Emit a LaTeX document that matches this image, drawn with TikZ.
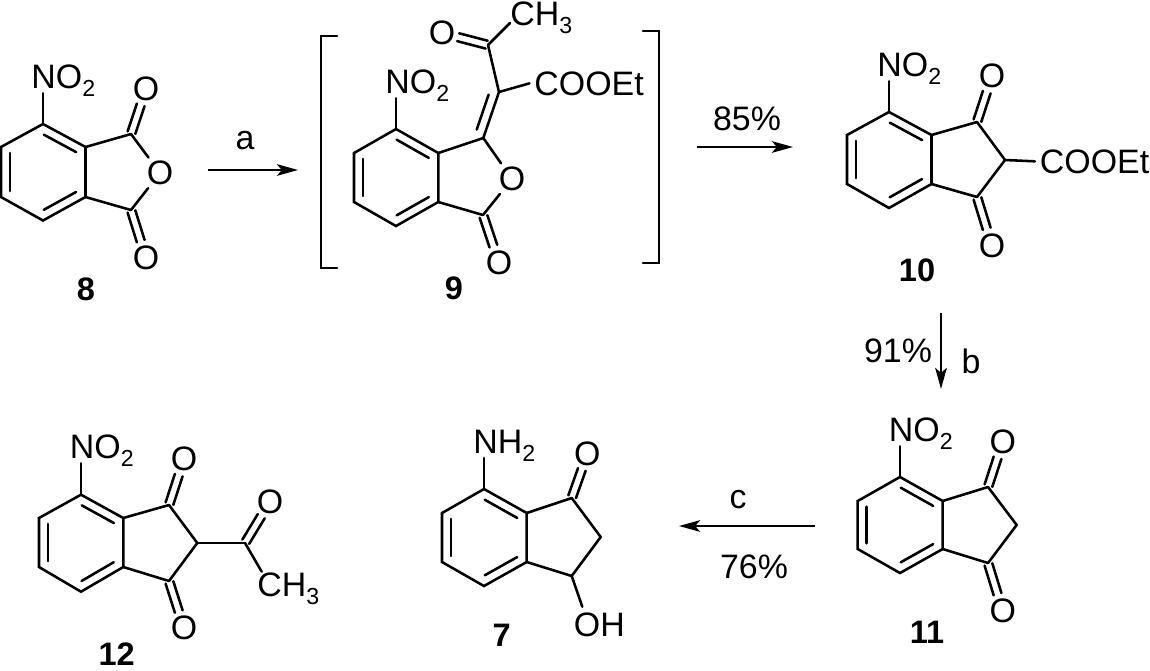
\documentclass[tikz,border=0pt]{standalone}
\usepackage{fontspec}
\setmainfont{Liberation Sans}
\usepackage{tikz}
\usetikzlibrary{calc,arrows.meta}

\newcommand{\sbs}[1]{\smash{\raisebox{-4.6pt}{\fontsize{13.2}{13.2}\selectfont #1}}}

\begin{document}
\begin{tikzpicture}[x=0.02cm, y=-0.02cm]
    \tikzstyle{bond}=[
        draw = black,
        line width = 1.45pt,
        line cap = round
    ]
    \tikzstyle{reaction}=[
        draw = black,
        line width = 1.25pt,
        -{Stealth[length=12pt, width=6.6pt, inset=2.8pt]}
    ]
    \tikzstyle{group}=[
        font = \fontsize{19.3}{21}\selectfont,
        inner sep = 2.6pt,
        anchor = base west
    ]
    \tikzstyle{oxygen}=[
        font = \fontsize{19.3}{21}\selectfont,
        circle,
        inner sep = 0pt,
        minimum size = 21.5pt
    ]
    \tikzstyle{condition}=[
        font = \fontsize{19.3}{21}\selectfont,
        inner sep = 0pt,
        anchor = base
    ]
    \tikzstyle{compound}=[
        font = \fontsize{18.5}{20}\selectfont\bfseries,
        inner sep = 0pt
    ]
    \tikzstyle{inring}=[
        to path = {($(\tikztostart)!.12!(\tikztotarget)!5.1pt!#1:(\tikztotarget)$) -- ($(\tikztostart)!.88!(\tikztotarget)!5.1pt!#1:(\tikztotarget)$)}
    ]
    \tikzstyle{carbonyl}=[
        to path = {($(\tikztostart)!.03!(\tikztotarget)!2.3pt!90:(\tikztotarget)$) -- ($(\tikztostart)!.65!(\tikztotarget)!2.3pt!90:(\tikztotarget)$)
            ($(\tikztostart)!.03!(\tikztotarget)!2.3pt!-90:(\tikztotarget)$) -- ($(\tikztostart)!.65!(\tikztotarget)!2.3pt!-90:(\tikztotarget)$)}
    ]

    \useasboundingbox (0, 0) rectangle (1150, 670);

    % compound 8
    \coordinate (t8)  at (43, 124);
    \coordinate (ur8) at (85.5, 147);
    \coordinate (lr8) at (85.5, 197);
    \coordinate (b8)  at (43, 220.5);
    \coordinate (ll8) at (1, 197);
    \coordinate (ul8) at (1, 147);
    \coordinate (c8)  at (131, 134);
    \coordinate (d8)  at (131, 210);
    \node[oxygen] (o8)  at (160, 173) {O};
    \node[oxygen] (p8)  at (146, 89)  {O};
    \node[oxygen] (q8)  at (146, 258) {O};
    \node[group]  (n8)  at (26.5, 88) {NO\sbs{2}};
    \node[compound] (l8) at (86, 289) {8};

    \draw[bond] (t8) -- (ur8) -- (lr8) -- (b8) -- (ll8) -- (ul8) -- cycle;
    \path[bond] (t8) to[inring=-90] (ur8);
    \path[bond] (lr8) to[inring=-90] (b8);
    \path[bond] (ll8) to[inring=-90] (ul8);
    \path[bond] (ur8) -- (c8);
    \path[bond] (lr8) -- (d8);
    \path[bond] (c8) -- (o8);
    \path[bond] (d8) -- (o8);
    \path[bond] (c8) to[carbonyl] (p8);
    \path[bond] (d8) to[carbonyl] (q8);
    \path[bond] (t8) -- (n8.south -| t8);

    % arrow a
    \coordinate (a0) at (208, 170);
    \coordinate (a1) at (298, 170);
    \draw[reaction] (a0) -- (a1);
    \node[condition] (la) at (245, 149) {a};

    % compound 9 with its brackets
    \coordinate (br1) at (337, 36);
    \coordinate (br2) at (321, 36);
    \coordinate (br3) at (321, 268);
    \coordinate (br4) at (337, 268);
    \coordinate (br5) at (643, 31);
    \coordinate (br6) at (659, 31);
    \coordinate (br7) at (659, 263);
    \coordinate (br8) at (643, 263);
    \draw[bond] (br1) -- (br2) -- (br3) -- (br4);
    \draw[bond] (br5) -- (br6) -- (br7) -- (br8);

    \coordinate (t9)  at (396, 129);
    \coordinate (ur9) at (438.3, 153);
    \coordinate (lr9) at (438.3, 202);
    \coordinate (b9)  at (396, 226);
    \coordinate (ll9) at (354, 202);
    \coordinate (ul9) at (354, 153);
    \coordinate (c9)  at (483.3, 138);
    \coordinate (d9)  at (483, 215);
    \coordinate (e9)  at (499, 92);
    \coordinate (f9)  at (488, 45);
    \coordinate (g9)  at (510, 23);
    \node[oxygen] (o9)  at (512, 179) {O};
    \node[oxygen] (q9)  at (499, 263) {O};
    \node[oxygen] (p9)  at (442, 33)  {O};
    \node[group]  (n9)  at (380.5, 93) {NO\sbs{2}};
    \node[group]  (h9)  at (505.5, 25) {CH\sbs{3}};
    \node[group]  (x9)  at (529.5, 95) {COOEt};
    \node[compound] (l9) at (454, 288) {9};

    \draw[bond] (t9) -- (ur9) -- (lr9) -- (b9) -- (ll9) -- (ul9) -- cycle;
    \path[bond] (t9) to[inring=-90] (ur9);
    \path[bond] (lr9) to[inring=-90] (b9);
    \path[bond] (ll9) to[inring=-90] (ul9);
    \path[bond] (ur9) -- (c9);
    \path[bond] (lr9) -- (d9);
    \path[bond] (c9) -- (o9);
    \path[bond] (d9) -- (o9);
    \path[bond] (d9) to[carbonyl] (q9);
    \path[bond] (c9) -- (e9);
    \path[bond] (c9) to[inring=90] (e9);
    \path[bond] (e9) -- (f9);
    \path[bond] (e9) -- (x9.west);
    \path[bond] (f9) -- (g9);
    \path[bond] (f9) to[carbonyl] (p9);
    \path[bond] (t9) -- (n9.south -| t9);

    % arrow 85%
    \coordinate (a2) at (697, 147);
    \coordinate (a3) at (793, 147);
    \draw[reaction] (a2) -- (a3);
    \node[condition] (lp) at (747, 130) {85\%};

    % compound 10
    \coordinate (t10)  at (889, 112);
    \coordinate (ur10) at (931.5, 135);
    \coordinate (lr10) at (931.5, 184);
    \coordinate (b10)  at (889, 208);
    \coordinate (ll10) at (847, 184);
    \coordinate (ul10) at (847, 135);
    \coordinate (c10)  at (977, 122);
    \coordinate (e10)  at (1005, 160);
    \coordinate (d10)  at (977, 197);
    \node[oxygen] (p10) at (992, 76)  {O};
    \node[oxygen] (q10) at (992, 246) {O};
    \node[group]  (n10) at (872.5, 76) {NO\sbs{2}};
    \node[group]  (x10) at (1035, 173) {COOEt};
    \node[compound] (l10) at (917, 270) {10};

    \draw[bond] (t10) -- (ur10) -- (lr10) -- (b10) -- (ll10) -- (ul10) -- cycle;
    \path[bond] (t10) to[inring=-90] (ur10);
    \path[bond] (lr10) to[inring=-90] (b10);
    \path[bond] (ll10) to[inring=-90] (ul10);
    \path[bond] (ur10) -- (c10);
    \path[bond] (lr10) -- (d10);
    \path[bond] (c10) -- (e10);
    \path[bond] (d10) -- (e10);
    \path[bond] (e10) -- (x10.west);
    \path[bond] (c10) to[carbonyl] (p10);
    \path[bond] (d10) to[carbonyl] (q10);
    \path[bond] (t10) -- (n10.south -| t10);

    % arrow b
    \coordinate (a4) at (941, 313);
    \coordinate (a5) at (941, 389);
    \draw[reaction] (a4) -- (a5);
    \node[condition] (lq) at (898, 362) {91\%};
    \node[condition] (lb) at (971, 373) {b};

    % compound 11
    \coordinate (t11)  at (900, 477);
    \coordinate (ur11) at (942.7, 501);
    \coordinate (lr11) at (942.7, 549);
    \coordinate (b11)  at (900, 573);
    \coordinate (ll11) at (857.7, 549);
    \coordinate (ul11) at (857.7, 501);
    \coordinate (c11)  at (988, 487);
    \coordinate (e11)  at (1016.7, 525);
    \coordinate (d11)  at (988, 563);
    \node[oxygen] (p11) at (1002.7, 442) {O};
    \node[oxygen] (q11) at (1002.7, 611) {O};
    \node[group]  (n11) at (884, 441) {NO\sbs{2}};
    \node[compound] (l11) at (927, 632) {11};

    \draw[bond] (t11) -- (ur11) -- (lr11) -- (b11) -- (ll11) -- (ul11) -- cycle;
    \path[bond] (t11) to[inring=-90] (ur11);
    \path[bond] (lr11) to[inring=-90] (b11);
    \path[bond] (ll11) to[inring=-90] (ul11);
    \path[bond] (ur11) -- (c11);
    \path[bond] (lr11) -- (d11);
    \path[bond] (c11) -- (e11);
    \path[bond] (d11) -- (e11);
    \path[bond] (c11) to[carbonyl] (p11);
    \path[bond] (d11) to[carbonyl] (q11);
    \path[bond] (t11) -- (n11.south -| t11);

    % arrow c
    \coordinate (a6) at (815, 526);
    \coordinate (a7) at (679, 526);
    \draw[reaction] (a6) -- (a7);
    \node[condition] (lc) at (738, 508) {c};
    \node[condition] (lr) at (754, 578) {76\%};

    % compound 7
    \coordinate (t7)  at (484, 489);
    \coordinate (ur7) at (526.7, 513);
    \coordinate (lr7) at (526.7, 562);
    \coordinate (b7)  at (484, 586);
    \coordinate (ll7) at (442, 562);
    \coordinate (ul7) at (442, 513);
    \coordinate (c7)  at (571.7, 498);
    \coordinate (e7)  at (600.7, 537);
    \coordinate (d7)  at (571.7, 576);
    \coordinate (g7)  at (582.3, 606.7);
    \node[oxygen] (p7) at (587.3, 454) {O};
    \node[group]  (n7) at (468.5, 453) {NH\sbs{2}};
    \node[group]  (h7) at (569, 636) {OH};
    \node[compound] (l7) at (501.7, 635) {7};

    \draw[bond] (t7) -- (ur7) -- (lr7) -- (b7) -- (ll7) -- (ul7) -- cycle;
    \path[bond] (t7) to[inring=-90] (ur7);
    \path[bond] (lr7) to[inring=-90] (b7);
    \path[bond] (ll7) to[inring=-90] (ul7);
    \path[bond] (ur7) -- (c7);
    \path[bond] (lr7) -- (d7);
    \path[bond] (c7) -- (e7);
    \path[bond] (d7) -- (e7);
    \path[bond] (d7) -- (g7);
    \path[bond] (c7) to[carbonyl] (p7);
    \path[bond] (t7) -- (n7.south -| t7);

    % compound 12
    \coordinate (t12)  at (81, 494.7);
    \coordinate (ur12) at (123.3, 518);
    \coordinate (lr12) at (123.3, 567);
    \coordinate (b12)  at (81, 591.7);
    \coordinate (ll12) at (39, 567);
    \coordinate (ul12) at (39, 518);
    \coordinate (c12)  at (169, 505);
    \coordinate (e12)  at (197.3, 543);
    \coordinate (d12)  at (169, 581);
    \coordinate (f12)  at (245, 543);
    \coordinate (g12)  at (261.7, 571.7);
    \node[oxygen] (p12) at (184, 459) {O};
    \node[oxygen] (q12) at (184, 628) {O};
    \node[oxygen] (r12) at (270, 501.7) {O};
    \node[group]  (n12) at (65, 458) {NO\sbs{2}};
    \node[group]  (h12) at (252.5, 596.7) {CH\sbs{3}};
    \node[compound] (l12) at (116.7, 654.5) {12};

    \draw[bond] (t12) -- (ur12) -- (lr12) -- (b12) -- (ll12) -- (ul12) -- cycle;
    \path[bond] (t12) to[inring=-90] (ur12);
    \path[bond] (lr12) to[inring=-90] (b12);
    \path[bond] (ll12) to[inring=-90] (ul12);
    \path[bond] (ur12) -- (c12);
    \path[bond] (lr12) -- (d12);
    \path[bond] (c12) -- (e12);
    \path[bond] (d12) -- (e12);
    \path[bond] (e12) -- (f12);
    \path[bond] (f12) -- (g12);
    \path[bond] (c12) to[carbonyl] (p12);
    \path[bond] (d12) to[carbonyl] (q12);
    \path[bond] (f12) to[carbonyl] (r12);
    \path[bond] (t12) -- (n12.south -| t12);

\end{tikzpicture}
\end{document}
